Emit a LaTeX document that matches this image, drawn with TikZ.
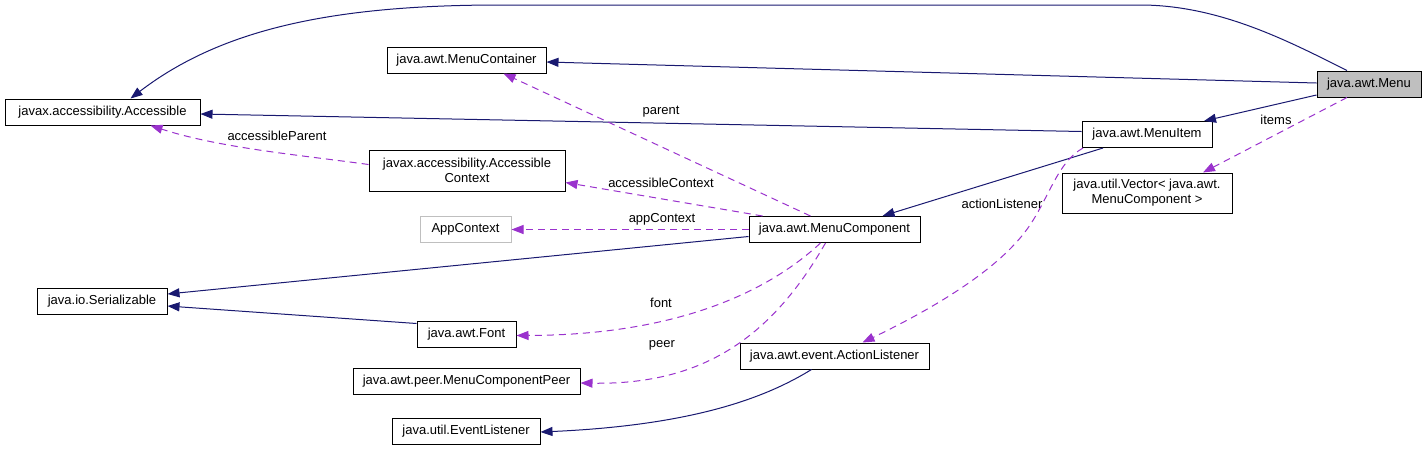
\documentclass[tikz,border=0pt]{standalone}
\usepackage{fontspec}
\setmainfont{Liberation Sans}
\usepackage{xcolor}
\usepackage{tikz}
\usetikzlibrary{arrows.meta}

\definecolor{azulheranca}{HTML}{191970}
\definecolor{roxomembro}{HTML}{9A32CD}
\definecolor{cinzaclasse}{HTML}{BFBFBF}

\begin{document}
\begin{tikzpicture}[
    x=1pt, y=-1pt,
    >={Triangle[length=12pt,width=9pt]},
    classe/.style={
        rectangle,
        draw,
        line width=1pt,
        align=center,
        minimum height=26pt,
        inner sep=2pt,
        font=\fontsize{13}{15}\selectfont
    },
    heranca/.style={->, draw=azulheranca, line width=1pt},
    membro/.style={->, draw=roxomembro, line width=1pt,
        dash pattern=on 7pt off 5pt},
    rotulo/.style={inner sep=1pt, font=\fontsize{13}{15}\selectfont}
]
\useasboundingbox (0,0) rectangle (1427,451);

\node[classe, fill=cinzaclasse, minimum width=104pt] (menu) at (1369,84) {java.awt.Menu};
\node[classe, minimum width=159pt] (mcont) at (466.5,60) {java.awt.MenuContainer};
\node[classe, minimum width=195pt] (acc) at (102.5,112) {javax.accessibility.Accessible};
\node[classe, minimum width=196pt, minimum height=41pt] (actx) at (467,170.5) {javax.accessibility.Accessible\\Context};
\node[classe, draw=cinzaclasse, minimum width=91pt] (appc) at (465.5,229.5) {AppContext};
\node[classe, minimum width=171pt] (mcomp) at (834.5,229.5) {java.awt.MenuComponent};
\node[classe, minimum width=130pt] (ser) at (102,301) {java.io.Serializable};
\node[classe, minimum width=99pt] (font) at (466.5,334.5) {java.awt.Font};
\node[classe, minimum width=227pt] (peer) at (466.5,381) {java.awt.peer.MenuComponentPeer};
\node[classe, minimum width=148pt] (evl) at (466,431) {java.util.EventListener};
\node[classe, minimum width=189pt] (actl) at (834.5,356) {java.awt.event.ActionListener};
\node[classe, minimum width=130pt] (mitem) at (1147,134.5) {java.awt.MenuItem};
\node[classe, minimum width=170pt, minimum height=40pt] (vec) at (1147,193) {java.util.Vector< java.awt.\\MenuComponent >};

% heranca
\draw[heranca] ([xshift=-22pt]menu.north) .. controls (1290,42) and (1220,5) .. (1140,5)
    -- (500,5) .. controls (330,5) and (220,30) .. ([xshift=28pt]acc.north);
\draw[heranca] ([yshift=1pt]menu.west) -- ([yshift=-2pt]mcont.east);
\draw[heranca] ([yshift=-11pt]menu.west) -- ([xshift=57pt]mitem.north);
\draw[heranca] ([yshift=3pt]mitem.west) -- ([yshift=-2pt]acc.east);
\draw[heranca] ([xshift=-44pt]mitem.south) -- ([xshift=48pt]mcomp.north);
\draw[heranca] ([yshift=-7pt]mcomp.west) -- ([yshift=7pt]ser.east);
\draw[heranca] ([yshift=11pt]font.west) -- ([yshift=-5pt]ser.east);
\draw[heranca] ([xshift=-23pt]actl.south) .. controls (770,395) and (700,425) .. ([yshift=-1pt]evl.east);

% membros
\draw[membro] ([xshift=-22pt]menu.south) -- ([xshift=56pt]vec.north);
\draw[membro] ([xshift=-64pt]mitem.south) .. controls (1058,162) and (1050,195) .. (1030,225)
    .. controls (1000,270) and (930,310) .. ([xshift=28pt]actl.north);
\draw[membro] ([xshift=-24pt]mcomp.north) -- ([xshift=37pt]mcont.south);
\draw[membro] ([xshift=-72pt]mcomp.north) -- ([yshift=-12pt]actx.east);
\draw[membro] (mcomp.west) -- (appc.east);
\draw[membro] ([xshift=-14pt]mcomp.south) .. controls (770,290) and (680,335) .. ([yshift=-1pt]font.east);
\draw[membro] ([xshift=-9pt]mcomp.south) .. controls (770,340) and (700,385) .. ([yshift=-2pt]peer.east);
\draw[membro] ([yshift=6pt]actx.west) .. controls (300,155) and (220,148) .. ([xshift=48pt]acc.south);

\node[rotulo] (litems) at (1276,120) {items};
\node[rotulo] (lparent) at (661,112) {parent};
\node[rotulo] (lapar) at (277,136) {accessibleParent};
\node[rotulo] (lactx) at (661,183) {accessibleContext};
\node[rotulo] (lappc) at (662,219) {appContext};
\node[rotulo] (lactl) at (1002,204) {actionListener};
\node[rotulo] (lfont) at (661,303) {font};
\node[rotulo] (lpeer) at (662,345) {peer};

\end{tikzpicture}
\end{document}
